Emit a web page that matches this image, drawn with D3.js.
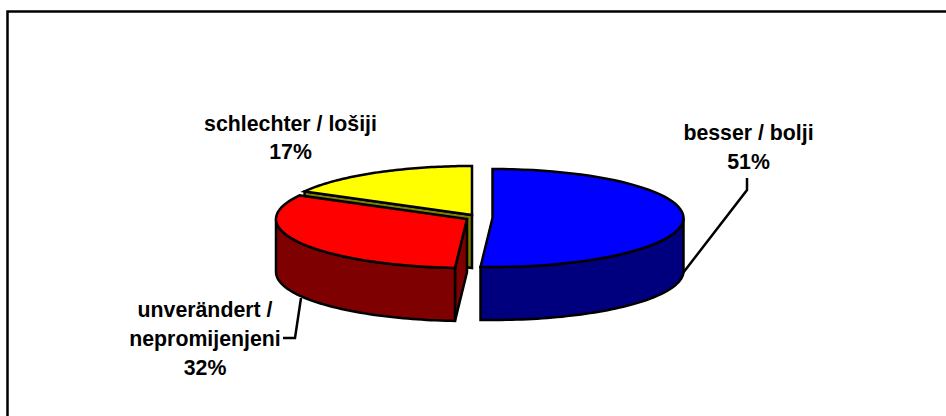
<!DOCTYPE html>
<html>
<head>
<meta charset="utf-8">
<script src="https://cdn.jsdelivr.net/npm/d3@7"></script>
<style>
  html, body { margin: 0; padding: 0; background: #fff; }
  svg { display: block; }
  text { font-family: "Liberation Sans", Arial, sans-serif; font-weight: bold; font-size: 21.3px; fill: #000; }
</style>
</head>
<body>
<svg id="chart"></svg>
<script>
const categories = ["besser / bolji", "unverändert / nepromijenjeni", "schlechter / lošiji"];
const values = [51, 32, 17];
const topColors = ["#0000ff", "#ff0000", "#ffff00"];
const sideColors = ["#00007f", "#7f0000", "#7f7f00"];

const svgWidth = 946;
const svgHeight = 416;
const rx = 191;
const ry = 49;
const depth = 53;
// each slice is pulled out of the pie, so each has its own centre
const centers = [[492.5, 218], [467, 219], [472, 215]];

const svg = d3.select("#chart").attr("width", svgWidth).attr("height", svgHeight);

// frame
svg.append("path")
    .attr("d", "M7.5,416V11.5H946")
    .attr("fill", "none")
    .attr("stroke", "#000")
    .attr("stroke-width", 2.5);

const slices = d3.pie().sort(null)(values);

const px = (c, a) => c[0] + rx * Math.sin(a);
const py = (c, a) => c[1] - ry * Math.cos(a);

function arcPoints(c, a0, a1, dy) {
    const n = 60;
    return d3.range(n + 1).map(i => {
        const a = a0 + (a1 - a0) * i / n;
        return [px(c, a), py(c, a) + dy];
    });
}

const line = d3.line();

function drawShape(points, fill) {
    svg.append("path")
        .attr("d", line(points) + "Z")
        .attr("fill", fill)
        .attr("stroke", "#000")
        .attr("stroke-width", 2.5)
        .attr("stroke-linejoin", "miter");
}

function outerSide(i, a0, a1) {
    const c = centers[i];
    drawShape(arcPoints(c, a0, a1, 0).concat(arcPoints(c, a1, a0, depth)), sideColors[i]);
}

function cutSide(i, a) {
    const c = centers[i];
    drawShape([c, [px(c, a), py(c, a)], [px(c, a), py(c, a) + depth], [c[0], c[1] + depth]], sideColors[i]);
}

function topFace(i) {
    const c = centers[i];
    const s = slices[i];
    drawShape([c].concat(arcPoints(c, s.startAngle, s.endAngle, 0)), topColors[i]);
}

// back to front: yellow, red, blue
cutSide(2, slices[2].startAngle);
topFace(2);

cutSide(1, slices[1].startAngle);
outerSide(1, slices[1].startAngle, 1.5 * Math.PI);
topFace(1);

outerSide(0, Math.PI / 2, slices[0].endAngle);
topFace(0);

// leader lines
const leaders = [
    [[683, 273], [747, 190], [747, 178]],
    [[301, 298], [295, 338], [283, 338]]
];
svg.selectAll("path.leader").data(leaders).join("path")
    .attr("class", "leader")
    .attr("d", d => line(d))
    .attr("fill", "none")
    .attr("stroke", "#000")
    .attr("stroke-width", 2.5);

// labels
const labelLines = [
    { x: 748.5, y: [140, 169], t: ["besser / bolji", values[0] + "%"] },
    { x: 205, y: [317, 346, 375], t: ["unverändert /", "nepromijenjeni", values[1] + "%"] },
    { x: 290.5, y: [131, 159], t: ["schlechter / lošiji", values[2] + "%"] }
];
labelLines.forEach(l => {
    l.t.forEach((str, i) => {
        svg.append("text")
            .attr("x", l.x)
            .attr("y", l.y[i])
            .attr("text-anchor", "middle")
            .text(str);
    });
});
</script>
</body>
</html>
